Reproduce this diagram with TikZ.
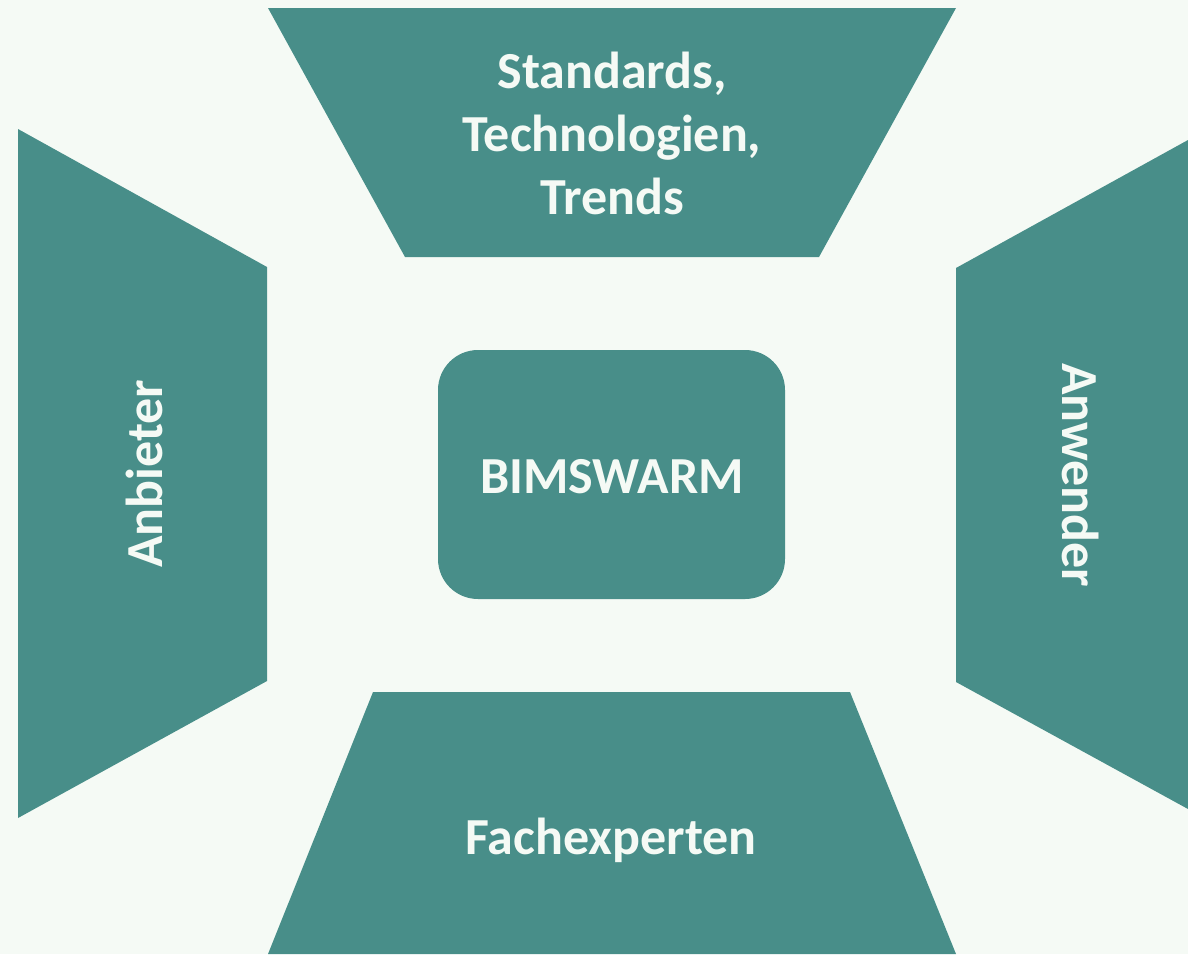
\documentclass[tikz,border=0pt]{standalone}
\usepackage{fontspec}
\setmainfont{Carlito}
\definecolor{bg}{HTML}{F5FAF5}
\definecolor{teal}{HTML}{488E89}
\begin{document}
\begin{tikzpicture}[x=1pt,y=-1pt,
  shape fill/.style={fill=teal,draw=none},
  label text/.style={text=bg,font=\fontsize{52}{63}\selectfont\bfseries,align=center,inner sep=0pt}]
\fill[bg] (0,0) rectangle (1188,954);
\useasboundingbox (0,0) rectangle (1188,954);
% top
\path[shape fill] (268,8) -- (956,8) -- (819,257) -- (405,257) -- cycle;
% left
\path[shape fill] (18,129) -- (267,267) -- (267,681) -- (18,818) -- cycle;
% right
\path[shape fill] (1188,140) -- (956,268) -- (956,682) -- (1188,809) -- cycle;
% bottom
\path[shape fill] (373,692) -- (850,692) -- (956,954) -- (268,954) -- cycle;
% center
\path[shape fill,rounded corners=40pt] (438,350) rectangle (785,599);
\node[label text] (top) at (612,133) {Standards,\\Technologien,\\Trends};
\node[label text,rotate=90] (left) at (144,474) {Anbieter};
\node[label text,rotate=-90] (right) at (1081,475) {Anwender};
\node[label text] (bottom) at (611,840) {Fachexperten};
\node[label text] (center) at (612,477) {BIMSWARM};
\end{tikzpicture}
\end{document}
